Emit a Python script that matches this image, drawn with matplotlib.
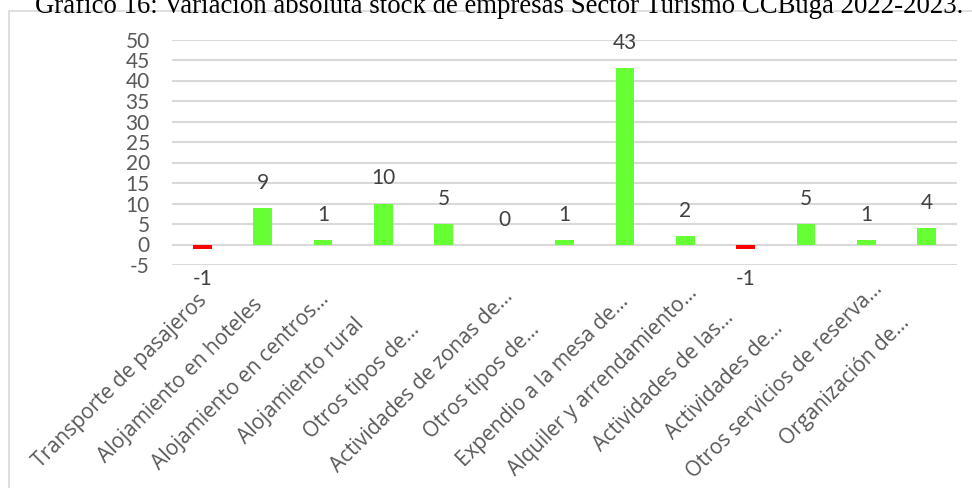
import matplotlib
matplotlib.use("Agg")
import matplotlib.pyplot as plt
from matplotlib.patches import Rectangle
from matplotlib.transforms import ScaledTranslation

categories = [
    "Transporte de pasajeros",
    "Alojamiento en hoteles",
    "Alojamiento en centros…",
    "Alojamiento rural",
    "Otros tipos de…",
    "Actividades de zonas de…",
    "Otros tipos de…",
    "Expendio a la mesa de…",
    "Alquiler y arrendamiento…",
    "Actividades de las…",
    "Actividades de…",
    "Otros servicios de reserva…",
    "Organización de…",
]
values = [-1, 9, 1, 10, 5, 0, 1, 43, 2, -1, 5, 1, 4]
yticks = list(range(-5, 55, 5))
title = "Gráfico 16: Variación absoluta stock de empresas Sector Turismo CCBuga 2022-2023."

W, H = 972, 488
fig = plt.figure(figsize=(W / 100, H / 100), dpi=100)

# chart border
fig.patches.append(Rectangle((8.5 / W, -0.1), 1.2, 1 - 10.5 / H + 0.1,
                             transform=fig.transFigure, fill=False,
                             edgecolor="#D9D9D9", linewidth=1.2))

ax = fig.add_axes([172 / W, 1 - 265 / H, (957 - 172) / W, (265 - 39.5) / H])
x = list(range(len(categories)))
colors = ["#FF0000" if v < 0 else "#66FF33" for v in values]
ax.bar(x, values, width=0.31, color=colors, zorder=3)

ax.set_xlim(-0.5, len(categories) - 0.5)
ax.set_ylim(-5, 50)
ax.set_yticks(yticks)
ax.set_yticklabels([str(t) for t in yticks], fontsize=15, color="#595959",
                   family=["Lato", "DejaVu Sans"])
for t in yticks:
    ax.axhline(t, color="#D9D9D9", linewidth=1.5, zorder=1)
for s in ax.spines.values():
    s.set_visible(False)
ax.tick_params(axis="both", length=0)
ax.tick_params(axis="y", pad=16)
ax.set_xticks(x)
ax.set_xticklabels(categories, rotation=45, ha="center", va="center",
                   rotation_mode="anchor",
                   fontsize=15, color="#595959", family=["Open Sans", "DejaVu Sans"])
ax.tick_params(axis="x", pad=0)
offset = ScaledTranslation(-82 / 100, -116 / 100, fig.dpi_scale_trans)
for lbl in ax.get_xticklabels():
    lbl.set_transform(lbl.get_transform() + offset)

for xi, v in zip(x, values):
    if v < 0:
        ax.annotate(str(v), (xi, v), xytext=(0, -22), textcoords="offset points",
                    ha="center", va="center", fontsize=15, color="#404040",
                    family=["Lato", "DejaVu Sans"])
    else:
        ax.annotate(str(v), (xi, v), xytext=(0, 18), textcoords="offset points",
                    ha="center", va="center", fontsize=15, color="#404040",
                    family=["Lato", "DejaVu Sans"])

fig.text(499 / W, 1 - 13 / H, title, ha="center", va="baseline", fontsize=19.3,
         family=["Liberation Serif", "DejaVu Serif"], color="#000000")

fig.savefig("out.png", dpi=100)
